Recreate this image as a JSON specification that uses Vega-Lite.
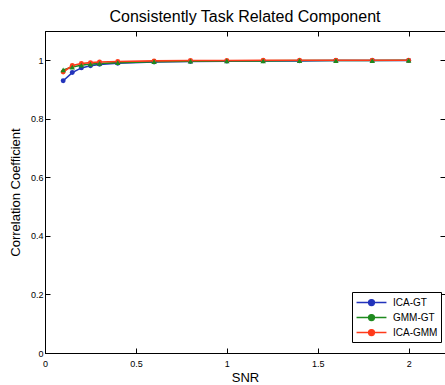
{
  "$schema": "https://vega.github.io/schema/vega-lite/v6.json",
  "autosize": "none",
  "width": 400,
  "height": 322,
  "padding": {"left": 45, "top": 31, "right": 0, "bottom": 32},
  "background": "white",
  "title": {
    "text": "Consistently Task Related Component",
    "font": "Liberation Sans",
    "fontSize": 16,
    "fontWeight": "normal",
    "color": "black",
    "offset": 6
  },
  "config": {
    "view": {"stroke": "black", "strokeWidth": 1},
    "axis": {
      "grid": false,
      "domainColor": "black",
      "tickColor": "black",
      "tickSize": -5,
      "labelFont": "Liberation Sans",
      "labelFontSize": 9,
      "labelColor": "black",
      "titleFont": "Liberation Sans",
      "titleFontSize": 13,
      "titleFontWeight": "normal",
      "titleColor": "black"
    }
  },
  "data": {
    "values": [
      {"series": "ICA-GT", "snr": 0.1, "r": 0.930},
      {"series": "ICA-GT", "snr": 0.15, "r": 0.958},
      {"series": "ICA-GT", "snr": 0.2, "r": 0.974},
      {"series": "ICA-GT", "snr": 0.25, "r": 0.981},
      {"series": "ICA-GT", "snr": 0.3, "r": 0.986},
      {"series": "ICA-GT", "snr": 0.4, "r": 0.990},
      {"series": "ICA-GT", "snr": 0.6, "r": 0.994},
      {"series": "ICA-GT", "snr": 0.8, "r": 0.996},
      {"series": "ICA-GT", "snr": 1.0, "r": 0.997},
      {"series": "ICA-GT", "snr": 1.2, "r": 0.998},
      {"series": "ICA-GT", "snr": 1.4, "r": 0.998},
      {"series": "ICA-GT", "snr": 1.6, "r": 0.999},
      {"series": "ICA-GT", "snr": 1.8, "r": 0.999},
      {"series": "ICA-GT", "snr": 2.0, "r": 0.999},
      {"series": "GMM-GT", "snr": 0.1, "r": 0.967},
      {"series": "GMM-GT", "snr": 0.15, "r": 0.977},
      {"series": "GMM-GT", "snr": 0.2, "r": 0.983},
      {"series": "GMM-GT", "snr": 0.25, "r": 0.987},
      {"series": "GMM-GT", "snr": 0.3, "r": 0.989},
      {"series": "GMM-GT", "snr": 0.4, "r": 0.992},
      {"series": "GMM-GT", "snr": 0.6, "r": 0.995},
      {"series": "GMM-GT", "snr": 0.8, "r": 0.997},
      {"series": "GMM-GT", "snr": 1.0, "r": 0.998},
      {"series": "GMM-GT", "snr": 1.2, "r": 0.998},
      {"series": "GMM-GT", "snr": 1.4, "r": 0.999},
      {"series": "GMM-GT", "snr": 1.6, "r": 0.999},
      {"series": "GMM-GT", "snr": 1.8, "r": 0.999},
      {"series": "GMM-GT", "snr": 2.0, "r": 1.0},
      {"series": "ICA-GMM", "snr": 0.1, "r": 0.960},
      {"series": "ICA-GMM", "snr": 0.15, "r": 0.982},
      {"series": "ICA-GMM", "snr": 0.2, "r": 0.989},
      {"series": "ICA-GMM", "snr": 0.25, "r": 0.992},
      {"series": "ICA-GMM", "snr": 0.3, "r": 0.994},
      {"series": "ICA-GMM", "snr": 0.4, "r": 0.996},
      {"series": "ICA-GMM", "snr": 0.6, "r": 0.998},
      {"series": "ICA-GMM", "snr": 0.8, "r": 0.999},
      {"series": "ICA-GMM", "snr": 1.0, "r": 0.999},
      {"series": "ICA-GMM", "snr": 1.2, "r": 1.0},
      {"series": "ICA-GMM", "snr": 1.4, "r": 1.0},
      {"series": "ICA-GMM", "snr": 1.6, "r": 1.0},
      {"series": "ICA-GMM", "snr": 1.8, "r": 1.0},
      {"series": "ICA-GMM", "snr": 2.0, "r": 1.0}
    ]
  },
  "resolve": {"axis": {"x": "independent", "y": "independent"}},
  "layer": [
    {
      "mark": {"type": "line", "strokeWidth": 1.6},
      "encoding": {
        "x": {
          "field": "snr", "type": "quantitative",
          "scale": {"domain": [0, 2.2], "nice": false, "zero": false},
          "axis": {"values": [0, 0.5, 1, 1.5, 2], "format": "~g", "title": "SNR", "labelPadding": 11, "titlePadding": 3, "labelFlush": false}
        },
        "y": {
          "field": "r", "type": "quantitative",
          "scale": {"domain": [0, 1.1], "nice": false},
          "axis": {"values": [0, 0.2, 0.4, 0.6, 0.8, 1], "format": "~g", "title": "Correlation Coefficient", "labelPadding": 7, "titlePadding": 8, "labelFlush": false}
        },
        "color": {
          "field": "series", "type": "nominal",
          "scale": {"domain": ["ICA-GT", "GMM-GT", "ICA-GMM"], "range": ["#2233bb", "#1e8a1e", "#ff3a1a"]},
          "legend": {
            "title": null,
            "orient": "none",
            "legendX": 307,
            "legendY": 261,
            "direction": "vertical",
            "strokeColor": "black",
            "fillColor": "white",
            "padding": 3,
            "rowPadding": 1,
            "symbolType": "M-2.3,0H2.3M-0.45,0A0.45,0.45 0 1 1 0.45,0A0.45,0.45 0 1 1 -0.45,0",
            "symbolSize": 169,
            "symbolStrokeWidth": 1.4,
            "symbolOffset": 9,
            "labelFont": "Liberation Sans",
            "labelFontSize": 10,
            "labelColor": "black",
            "labelOffset": 14,
            "encode": {
              "symbols": {"update": {"fill": {"scale": "color", "field": "value"}}}
            }
          }
        },
        "detail": {"field": "series"}
      }
    },
    {
      "transform": [{"filter": "datum.series !== 'GMM-GT'"}],
      "mark": {"type": "point", "filled": true, "shape": "circle", "size": 24, "opacity": 1},
      "encoding": {
        "x": {"field": "snr", "type": "quantitative", "axis": {"orient": "top", "values": [0, 0.5, 1, 1.5, 2], "labels": false, "title": null, "domain": false}},
        "y": {"field": "r", "type": "quantitative", "axis": {"orient": "right", "values": [0, 0.2, 0.4, 0.6, 0.8, 1], "labels": false, "title": null, "domain": false}},
        "color": {"field": "series", "type": "nominal", "legend": null}
      }
    },
    {
      "transform": [{"filter": "datum.series === 'GMM-GT'"}],
      "mark": {"type": "point", "filled": true, "shape": "triangle-up", "size": 30, "opacity": 1},
      "encoding": {
        "x": {"field": "snr", "type": "quantitative", "axis": null},
        "y": {"field": "r", "type": "quantitative", "axis": null},
        "color": {"field": "series", "type": "nominal", "legend": null}
      }
    }
  ]
}
